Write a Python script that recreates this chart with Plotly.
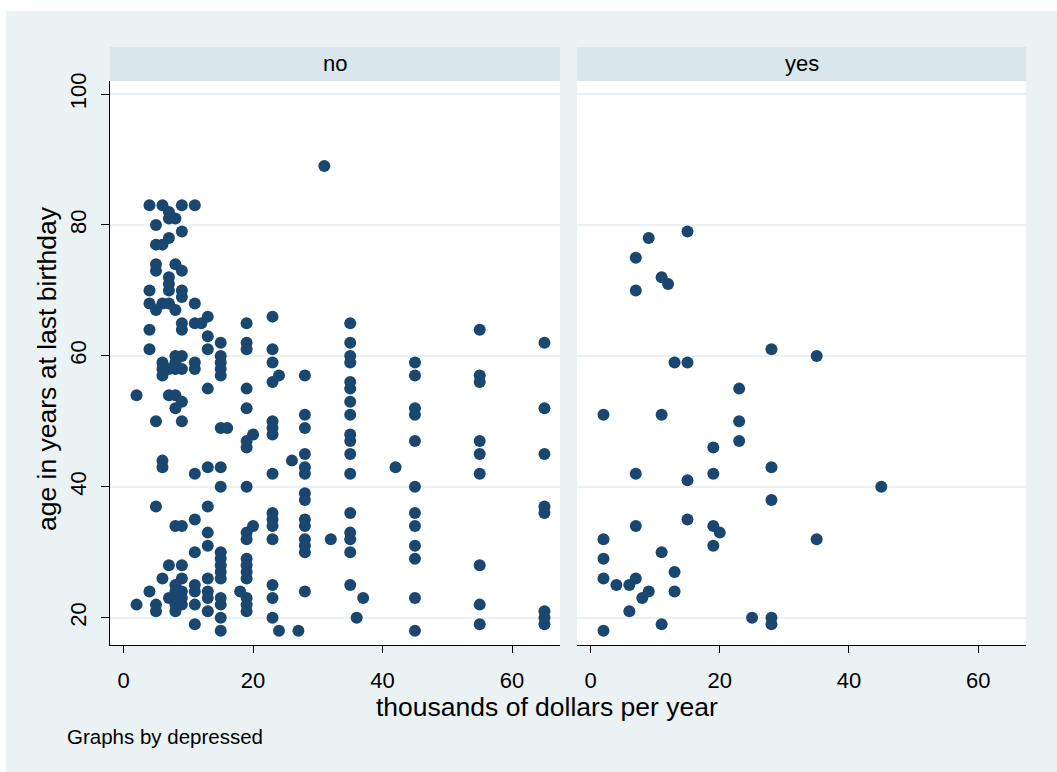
import plotly.graph_objects as go

# ---- data: depressed = "no" ----
income_no = [2, 2,
             4, 4, 4, 4, 4, 4,
             5, 5, 5, 5, 5, 5, 5, 5, 5,
             6, 6, 6, 6, 6, 6, 6, 6, 6,
             7, 7, 7, 7, 7, 7, 7, 7, 7, 7, 7,
             8, 8, 8, 8, 8, 8, 8, 8, 8, 8, 8, 8, 8, 8,
             9, 9, 9, 9, 9, 9, 9, 9, 9, 9, 9, 9, 9, 9, 9, 9, 9,
             11, 11, 11, 11, 11, 11, 11, 11, 11, 11, 11, 11,
             12,
             13, 13, 13, 13, 13, 13, 13, 13, 13, 13, 13, 13,
             15, 15, 15, 15, 15, 15, 15, 15, 15, 15, 15, 15, 15, 15, 15, 15, 15,
             16, 18,
             19, 19, 19, 19, 19, 19, 19, 19, 19, 19, 19, 19, 19, 19, 19, 19, 19,
             20, 20,
             23, 23, 23, 23, 23, 23, 23, 23, 23, 23, 23, 23, 23, 23, 23,
             24, 24, 26, 27,
             28, 28, 28, 28, 28, 28, 28, 28, 28, 28, 28, 28, 28, 28,
             31, 32,
             35, 35, 35, 35, 35, 35, 35, 35, 35, 35, 35, 35, 35, 35, 35, 35, 35,
             36, 37, 42,
             45, 45, 45, 45, 45, 45, 45, 45, 45, 45, 45, 45,
             55, 55, 55, 55, 55, 55, 55, 55, 55,
             65, 65, 65, 65, 65, 65, 65, 65]
age_no = [54, 22,
          83, 70, 68, 64, 61, 24,
          80, 77, 74, 73, 67, 50, 37, 22, 21,
          83, 77, 68, 59, 58, 57, 44, 43, 26,
          82, 81, 78, 72, 71, 70, 68, 58, 54, 28, 23,
          81, 74, 67, 60, 59, 58, 54, 52, 34, 25, 24, 23, 22, 21,
          83, 79, 73, 70, 69, 65, 64, 60, 58, 53, 50, 34, 28, 26, 24, 23, 22,
          83, 68, 65, 59, 58, 42, 35, 30, 25, 24, 22, 19,
          65,
          66, 63, 61, 55, 43, 37, 33, 31, 26, 24, 23, 21,
          62, 60, 59, 58, 57, 49, 43, 40, 30, 29, 28, 27, 26, 23, 22, 20, 18,
          49, 24,
          65, 62, 61, 55, 52, 47, 46, 40, 33, 32, 29, 28, 27, 26, 23, 22, 21,
          48, 34,
          66, 61, 59, 56, 50, 49, 48, 42, 36, 35, 34, 32, 25, 23, 20,
          57, 18, 44, 18,
          57, 51, 49, 45, 43, 42, 39, 38, 35, 34, 32, 31, 30, 24,
          89, 32,
          65, 62, 60, 59, 56, 55, 53, 51, 48, 47, 45, 42, 36, 33, 32, 30, 25,
          20, 23, 43,
          59, 57, 52, 51, 47, 40, 36, 34, 31, 29, 23, 18,
          64, 57, 56, 47, 45, 42, 28, 22, 19,
          62, 52, 45, 37, 36, 21, 20, 19]

# ---- data: depressed = "yes" ----
income_yes = [15, 9, 7, 11, 12, 7, 28, 35, 13, 15, 23, 2, 11, 23, 23, 19, 28, 7, 19, 15,
              45, 28, 15, 7, 19, 20, 35, 2, 19, 11, 2, 13, 2, 7, 4, 6, 9, 13, 8, 6,
              25, 28, 28, 11, 2]
age_yes = [79, 78, 75, 72, 71, 70, 61, 60, 59, 59, 55, 51, 51, 50, 47, 46, 43, 42, 42, 41,
           40, 38, 35, 34, 34, 33, 32, 32, 31, 30, 29, 27, 26, 26, 25, 25, 24, 24, 23, 21,
           20, 20, 19, 19, 18]

panel_labels = ["no", "yes"]
x_ticks = [0, 20, 40, 60]
y_ticks = [20, 40, 60, 80, 100]
x_title = "thousands of dollars per year"
y_title = "age in years at last birthday"
note = "Graphs by depressed"

W, H = 1057, 772
ML, MR, MT, MB = 110, 31, 47, 127
PW = W - ML - MR
PH = H - MT - MB


def px(xp):
    return (xp - ML) / PW


def py(yp):
    return (H - MB - yp) / PH


BG = "#eaf2f3"
STRIP = "#d9e6eb"
NAVY = "#1a476f"
FONT = "Liberation Sans, Arial, sans-serif"

dom_l = [0, px(560)]
dom_r = [px(577), 1]
ydom = [0, py(81)]

fig = go.Figure()
fig.add_trace(go.Scatter(x=income_no, y=age_no, mode="markers", xaxis="x", yaxis="y",
                         marker=dict(color=NAVY, size=12, line=dict(width=0)), showlegend=False))
fig.add_trace(go.Scatter(x=income_yes, y=age_yes, mode="markers", xaxis="x2", yaxis="y2",
                         marker=dict(color=NAVY, size=12, line=dict(width=0)), showlegend=False))

xcommon = dict(range=[-2.1, 67.4], tickvals=x_ticks, ticks="outside", ticklen=7, tickwidth=1.2,
               tickcolor="black", showline=True, linecolor="black", linewidth=1.3,
               showgrid=False, zeroline=False, tickfont=dict(size=22, color="black", family=FONT),
               ticklabelstandoff=8, fixedrange=True)
ycommon = dict(range=[15.83, 102.0], tickvals=y_ticks, zeroline=False, showgrid=True,
               gridcolor=BG, gridwidth=1.5, domain=ydom, fixedrange=True)

fig.update_layout(
    width=W, height=H,
    margin=dict(l=ML, r=MR, t=MT, b=MB, pad=0),
    paper_bgcolor=BG, plot_bgcolor="white",
    font=dict(family=FONT, color="black"),
    xaxis=dict(domain=dom_l, anchor="y", **xcommon),
    xaxis2=dict(domain=dom_r, anchor="y2", **xcommon),
    yaxis=dict(anchor="x", ticks="outside", ticklen=8, tickwidth=1.2, tickcolor="black",
               showline=True, linecolor="black", linewidth=1.3, tickangle=-90,
               tickfont=dict(size=22, color="black", family=FONT), ticklabelstandoff=6, **ycommon),
    yaxis2=dict(anchor="x2", matches="y", showticklabels=False, ticks="", showline=False, **ycommon),
    showlegend=False,
)

shapes = [
    dict(type="rect", xref="paper", yref="paper", x0=dom_l[0], x1=dom_l[1], y0=ydom[1], y1=py(47),
         fillcolor=STRIP, line=dict(width=0), layer="below"),
    dict(type="rect", xref="paper", yref="paper", x0=dom_r[0], x1=dom_r[1], y0=ydom[1], y1=py(47),
         fillcolor=STRIP, line=dict(width=0), layer="below"),
    # white outer border (top and left)
    dict(type="rect", xref="paper", yref="paper", x0=px(-5), x1=px(W + 5), y0=py(11), y1=py(-5),
         fillcolor="white", line=dict(width=0), layer="below"),
    dict(type="rect", xref="paper", yref="paper", x0=px(-5), x1=px(6), y0=py(H + 5), y1=py(-5),
         fillcolor="white", line=dict(width=0), layer="below"),
]
fig.update_layout(shapes=shapes)

ymid_strip = (ydom[1] + py(47)) / 2
annotations = [
    dict(text=panel_labels[0], x=(dom_l[0] + dom_l[1]) / 2, y=ymid_strip, xref="paper", yref="paper",
         showarrow=False, xanchor="center", yanchor="middle", font=dict(size=22, family=FONT)),
    dict(text=panel_labels[1], x=(dom_r[0] + dom_r[1]) / 2, y=ymid_strip, xref="paper", yref="paper",
         showarrow=False, xanchor="center", yanchor="middle", font=dict(size=22, family=FONT)),
    dict(text=x_title, x=px(547), y=py(707), xref="paper", yref="paper", showarrow=False,
         xanchor="center", yanchor="middle", font=dict(size=26.5, family=FONT)),
    dict(text=y_title, x=px(47), y=py(369), xref="paper", yref="paper", showarrow=False,
         textangle=-90, xanchor="center", yanchor="middle", font=dict(size=26.5, family=FONT)),
    dict(text=note, x=px(65), y=py(737), xref="paper", yref="paper", showarrow=False,
         xanchor="left", yanchor="middle", font=dict(size=20.5, family=FONT)),
]
fig.update_layout(annotations=annotations)

fig.write_html("out.html", config={"displayModeBar": False},
               post_script="document.body.style.margin='0';")
